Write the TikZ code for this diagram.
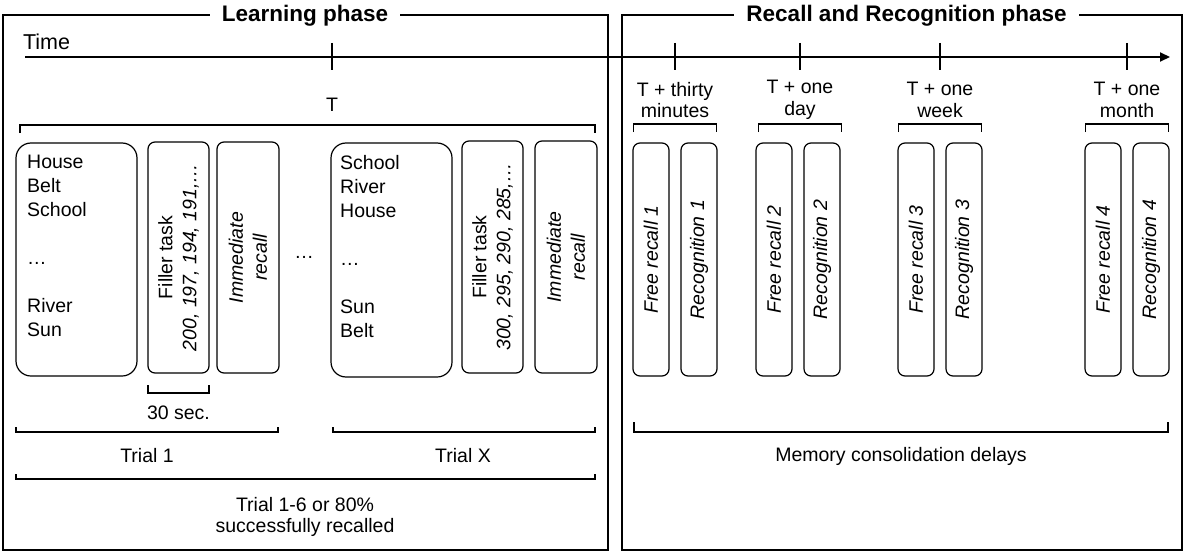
\documentclass[tikz,border=0pt]{standalone}
\usepackage{fontspec}
\setmainfont{Liberation Sans}
\usetikzlibrary{arrows.meta}
\begin{document}
\begin{tikzpicture}[x=1pt,y=-1pt,
  every node/.style={font=\fontsize{19.5}{24}\selectfont, inner sep=0pt},
  frame/.style={draw, line width=1.2pt},
  title/.style={font=\fontsize{22.5}{26}\selectfont\bfseries, fill=white, inner xsep=12pt, inner ysep=2pt},
  bigbox/.style={draw, line width=1.2pt, rounded corners=15pt},
  slimbox/.style={draw, line width=1.2pt, rounded corners=7pt},
  brk/.style={line width=1.5pt},
  tick/.style={line width=1.5pt},
  vlabel/.style={rotate=90, align=center, font=\fontsize{19.5}{24}\selectfont\itshape},
  lab/.style={align=center, font=\fontsize{19.5}{21.5}\selectfont}
]
\useasboundingbox (0,0) rectangle (1185,551);

% frames
\draw[frame] (3,15) rectangle (608,550);
\draw[frame] (622,15) rectangle (1182,550);
\node[title] (tlearn) at (305,16) {Learning phase};
\node[title] (trec) at (906.5,16) {Recall and Recognition phase};

% time axis
\coordinate (axs) at (25,57);
\coordinate (axe) at (1170,57);
\draw[line width=2pt, -{Triangle[length=10pt,width=9pt]}] (axs) -- (axe);
\node[font=\fontsize{21.5}{24}\selectfont] (time) at (46.5,42) {Time};
\foreach \x/\n in {332/t0, 675/t1, 800/t2, 940/t3, 1127/t4}{
  \draw[tick] (\x,43) coordinate (\n a) -- (\x,70) coordinate (\n b);
}

% T label and bracket
\node (T) at (332,105) {T};
\draw[brk] (20,133) -- (20,125) -- (595,125) -- (595,133);

% trial 1
\node[bigbox, minimum width=121pt, minimum height=233pt] (w1) at (76.5,259.5) {};
\node[anchor=north west, align=left] (w1t) at (27,155) {House\\Belt\\School\\~\\…\\~\\River\\Sun};
\node[slimbox, minimum width=61pt, minimum height=231pt] (f1) at (178.5,257.5) {};
\node[rotate=90, align=center] (f1t) at (f1.center) {Filler task\\\textit{200, 197, 194, 191,…}};
\node[slimbox, minimum width=62pt, minimum height=231pt] (i1) at (248,257.5) {};
\node[vlabel] (i1t) at (i1.center) {Immediate\\recall};

\node (dots) at (304,257) {…};

% trial X
\node[bigbox, minimum width=121pt, minimum height=234pt] (w2) at (391.5,260) {};
\node[anchor=north west, align=left] (w2t) at (340,155) {School\\River\\House\\~\\…\\~\\Sun\\Belt};
\node[slimbox, minimum width=61pt, minimum height=232pt] (f2) at (492.5,257) {};
\node[rotate=90, align=center] (f2t) at (f2.center) {Filler task\\\textit{300, 295, 290, 285,…}};
\node[slimbox, minimum width=62pt, minimum height=232pt] (i2) at (566,257) {};
\node[vlabel] (i2t) at (i2.center) {Immediate\\recall};

% bottom brackets (learning)
\draw[brk] (148,385) -- (148,393) -- (209,393) -- (209,385);
\node (sec) at (178.5,413) {30 sec.};
\draw[brk] (16,427) -- (16,432) -- (278,432) -- (278,427);
\node (tr1) at (147,456) {Trial 1};
\draw[brk] (333,427) -- (333,432) -- (595,432) -- (595,427);
\node (trx) at (463,456) {Trial X};
\draw[brk] (16,474) -- (16,479) -- (595,479) -- (595,474);
\node[lab] (tr16) at (305,517) {Trial 1-6 or 80\%\\successfully recalled};

% recall phase labels and brackets
\foreach \c/\a/\b/\n in {675/T + thirty/minutes/l1, 800/T + one/day/l2, 940/T + one/week/l3, 1127/T + one/month/l4}{
  \node[lab] (\n) at (\c,100) {\a\\\b};
  \draw[brk] (\c-41.5,132) -- (\c-41.5,124) -- (\c+41.5,124) -- (\c+41.5,132);
}

% recall boxes
\foreach \xa/\xb/\k in {633/681/1, 756/804/2, 898/946/3, 1085/1133/4}{
  \node[slimbox, minimum width=36pt, minimum height=233pt] (fr\k) at (\xa+18,259.5) {};
  \node[vlabel] (fr\k t) at (fr\k.center) {Free recall \k};
  \node[slimbox, minimum width=36pt, minimum height=233pt] (rc\k) at (\xb+18,259.5) {};
  \node[vlabel] (rc\k t) at (rc\k.center) {Recognition \k};
}

\draw[brk] (634,422) -- (634,432) -- (1168,432) -- (1168,422);
\node (mem) at (901,456) {Memory consolidation delays};
\end{tikzpicture}
\end{document}
